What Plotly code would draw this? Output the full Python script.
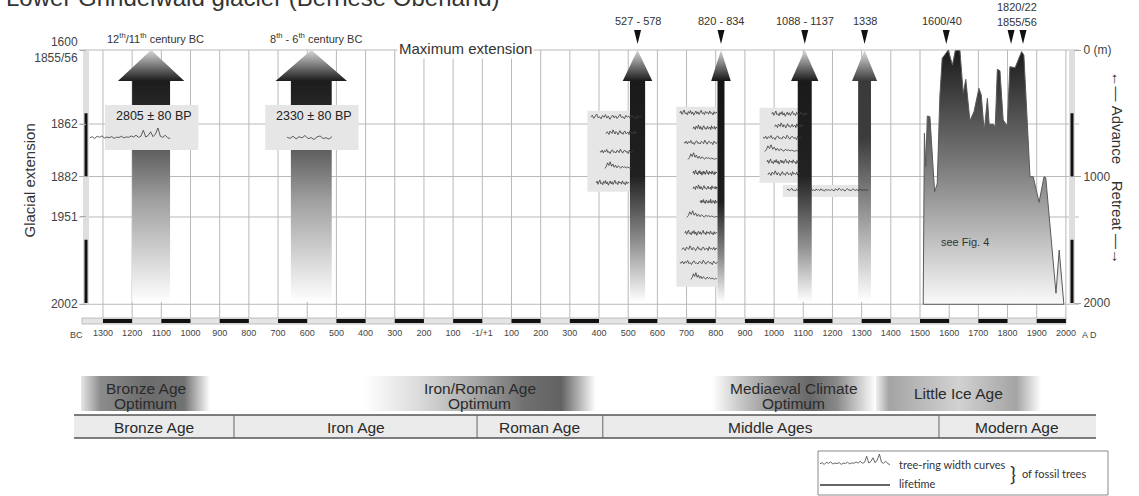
import numpy as np
import plotly.graph_objects as go

W, H = 1139, 496
FONT = "Liberation Sans, Arial, sans-serif"

# ----------------------------------------------------------------- data
CENTURY_VALUES = [-1300, -1200, -1100, -1000, -900, -800, -700, -600, -500, -400, -300,
                  -200, -100, 0, 100, 200, 300, 400, 500, 600, 700, 800, 900, 1000, 1100,
                  1200, 1300, 1400, 1500, 1600, 1700, 1800, 1900, 2000]
CENTURY_LABELS = ["1300", "1200", "1100", "1000", "900", "800", "700", "600", "500", "400",
                  "300", "200", "100", "-1/+1", "100", "200", "300", "400", "500", "600",
                  "700", "800", "900", "1000", "1100", "1200", "1300", "1400", "1500",
                  "1600", "1700", "1800", "1900", "2000"]

EXTENT_TICK_M = [0, 585, 1000, 1320, 2010]
EXTENT_TICK_TEXT = ["1600<br>1855/56", "1862", "1882", "1951", "2002"]
DISTANCE_TICK_M = [0, 1000, 2000]
DISTANCE_TICK_TEXT = ["0 (m)", "1000", "2000"]
DISTANCE_BARS_M = [[500, 1000], [1500, 2000]]

BC_ADVANCE_LABELS = ["12<sup>th</sup>/11<sup>th</sup> century BC", "8<sup>th</sup> - 6<sup>th</sup> century BC"]
BC_ADVANCE_CENTER = [-1135, -586]
BC_ADVANCE_HALF = [65, 70]
BC_DATES = ["2805 ± 80 BP", "2330 ± 80 BP"]

AD_ADVANCE_LABELS = ["527 - 578", "820 - 834", "1088 - 1137", "1338"]
AD_ADVANCE_CENTER = [532, 818, 1105, 1310]
AD_ADVANCE_HALF = [26, 12, 24, 22]

LIA_MARK_YEARS = [1590, 1812, 1853]
LIA_YEARS = [1511, 1515, 1520, 1525, 1534, 1550, 1559, 1568, 1576, 1597, 1611, 1621, 1637,
             1648, 1657, 1671, 1685, 1702, 1710, 1720, 1731, 1737, 1751, 1758, 1765, 1774,
             1785, 1799, 1808, 1826, 1848, 1856, 1877, 1888, 1908, 1925, 1931, 1966, 1977, 1993]
LIA_EXTENT_M = [2010, 659, 922, 522, 527, 1120, 1059, 369, 66, 0, 119, 5, 5,
                342, 232, 559, 488, 303, 356, 646, 382, 587, 587, 606, 153, 164,
                553, 601, 132, 140, 13, 40, 1002, 1002, 1204, 1002, 1009, 1923, 1581, 2010]

# fossil trees: (first year, last year, extension level in m)
TREES_BP1 = [(-1345, -1070, 688)]
TREES_BP2 = [(-669, -515, 696)]
TREES_527 = [(372, 547, 530), (424, 530, 656), (403, 516, 806), (420, 516, 925), (390, 503, 1051)]
TREES_820 = [(677, 805, 498), (722, 804, 617), (691, 806, 735), (705, 805, 854),
             (722, 804, 972), (722, 806, 1091), (746, 805, 1202), (701, 806, 1312),
             (694, 804, 1447), (684, 805, 1573), (677, 806, 1684), (715, 804, 1802)]
TREES_1088 = [(992, 1116, 506), (1002, 1100, 601), (962, 1095, 696), (968, 1082, 791),
              (975, 1088, 885), (979, 1088, 980)]
TREES_LONG = [(1044, 1322, 1107)]

RING_A = [0.50, 0.62, 0.41, 0.55, 0.70, 0.45, 0.52, 0.38, 0.60, 0.48, 0.66, 0.43, 0.57, 0.35,
          0.51, 0.63, 0.44, 0.58, 0.40, 0.54, 0.68, 0.46, 0.53, 0.39, 0.61, 0.49, 0.56, 0.42,
          0.64, 0.47, 0.52, 0.37, 0.59, 0.45, 0.55, 0.50]
RING_B = [0.45, 0.58, 0.52, 0.40, 0.63, 0.55, 0.47, 0.71, 0.50, 0.43, 0.60, 0.53, 0.38, 0.57,
          0.66, 0.48, 0.52, 0.41, 0.59, 0.62, 0.44, 0.51, 0.56, 0.39, 0.65, 0.49, 0.54, 0.46,
          0.61, 0.42, 0.57, 0.50]
RING_C = [0.55, 0.48, 0.62, 0.44, 0.59, 0.51, 0.67, 0.46, 0.53, 0.40, 0.58, 0.64, 0.47, 0.52,
          0.43, 0.60, 0.56, 0.45, 0.69, 0.50, 0.42, 0.57, 0.61, 0.48, 0.54, 0.39, 0.63, 0.51,
          0.46, 0.58]
RING_D = [0.40, 0.52, 0.78, 0.60, 0.85, 0.55, 0.70, 0.48, 0.62, 0.45, 0.58, 0.50, 0.42, 0.55,
          0.47, 0.52, 0.44, 0.50, 0.46, 0.41, 0.48, 0.43]
RING_SPIKY = [0.45, 0.52, 0.40, 0.55, 0.48, 0.58, 0.43, 0.50, 0.46, 0.53, 0.41, 0.49, 0.47,
              0.55, 0.44, 0.51, 0.48, 0.57, 0.50, 0.62, 0.48, 0.55, 0.95, 0.50, 0.60, 0.85,
              0.52, 0.70, 1.10, 0.55, 0.48, 0.62, 0.45, 0.40]
RING_SETS = [RING_A, RING_B, RING_C, RING_D]

ERA_NAMES = ["Bronze Age", "Iron Age", "Roman Age", "Middle Ages", "Modern Age"]
ERA_BOUNDS = [-1399, -851, -18, 413, 1565, 2103]
CLIMATE_NAMES = [["Bronze Age", "Optimum"], ["Iron/Roman Age", "Optimum"],
                 ["Mediaeval Climate", "Optimum"], ["Little Ice Age"]]
CLIMATE_START = [-1375, -405, 787, 1349]
CLIMATE_END = [-933, 389, 1349, 1915]

# ----------------------------------------------------------- calibration
X_ZERO_PX, PX_PER_YEAR = 482.3, 0.2918
Y_ZERO_PX, PX_PER_M = 50.0, 0.1265


def yr(px):
    return (px - X_ZERO_PX) / PX_PER_YEAR


def mm(py):
    return (py - Y_ZERO_PX) / PX_PER_M


X_RANGE = [yr(0), yr(W)]
Y_RANGE = [mm(H), mm(0)]

fig = go.Figure()


def add_line(xs, ys, color, width):
    fig.add_trace(go.Scatter(x=xs, y=ys, mode="lines", line=dict(color=color, width=width),
                             hoverinfo="skip", showlegend=False))


def add_poly(xs, ys, color=None, gradient=None, line_color="rgba(0,0,0,0)", lw=0):
    kw = dict(x=list(xs) + [xs[0]], y=list(ys) + [ys[0]], mode="lines", fill="toself",
              line=dict(color=line_color, width=lw), hoverinfo="skip", showlegend=False)
    if gradient is not None:
        kw["fillgradient"] = gradient
    else:
        kw["fillcolor"] = color
    fig.add_trace(go.Scatter(**kw))


def add_rect(x0, x1, y0, y1, color=None, gradient=None, line_color="rgba(0,0,0,0)", lw=0):
    add_poly([x0, x1, x1, x0], [y0, y0, y1, y1], color, gradient, line_color, lw)


def add_text(x, y, s, size, color="#333", xanchor="center", family=FONT, **kw):
    fig.add_annotation(x=x, y=y, xref="x", yref="y", text=s, showarrow=False,
                       font=dict(size=size, color=color, family=family),
                       xanchor=xanchor, yanchor="middle", **kw)


RING_AMP = mm(50 + 15)  # metres per ring-width unit


def add_tree(first, last, level, values, amp=RING_AMP, color="#3a3a3a", width=0.8):
    v = np.asarray(values, dtype=float)
    xs = np.linspace(first, last, len(v))
    ys = level - amp * (v - 0.5)
    add_line(list(xs), list(ys), color, width)


# ----------------------------------------------------------- grid
gx, gy = [], []
for v in CENTURY_VALUES:
    gx += [v, v, None]
    gy += [mm(50), mm(319), None]
add_line(gx, gy, "#b9b9b9", 1)
hx, hy = [], []
for t in EXTENT_TICK_M:
    hx += [yr(79), yr(1079), None]
    hy += [t, t, None]
add_line(hx, hy, "#b9b9b9", 1)

# side strips with alternating distance bars
add_rect(yr(83), yr(89), 0, EXTENT_TICK_M[-1], "#dedede")
add_rect(yr(1069), yr(1075), 0, EXTENT_TICK_M[-1], "#dedede")
for a, b in DISTANCE_BARS_M:
    add_line([yr(86), yr(86)], [a, b], "#111", 3)
    add_line([yr(1072), yr(1072)], [a, b], "#111", 3)

# bottom century strip
add_rect(yr(82), yr(1066), mm(318), mm(324), "#e4e4e4", line_color="#b0b0b0", lw=0.8)
for i in range(0, len(CENTURY_VALUES) - 1, 2):
    add_rect(CENTURY_VALUES[i], CENTURY_VALUES[i + 1], mm(319), mm(323), "#111")

HEAD_M = mm(81)
ARROW_BOTTOM_M = mm(302)

# ----------------------------------------------------------- BC advances
BC_SCALE = [[0, "#d8d8d8"], [HEAD_M / ARROW_BOTTOM_M, "#1c1c1c"], [0.22, "#262626"],
            [0.6, "#a0a0a0"], [1, "#ffffff"]]
for c, half in zip(BC_ADVANCE_CENTER, BC_ADVANCE_HALF):
    hh = half * 1.75
    add_poly([c, c + hh, c + half, c + half, c - half, c - half, c - hh],
             [0, HEAD_M, HEAD_M, ARROW_BOTTOM_M, ARROW_BOTTOM_M, HEAD_M, HEAD_M],
             gradient=dict(type="vertical", colorscale=BC_SCALE, start=0, stop=ARROW_BOTTOM_M))

for c, date, trees in zip(BC_ADVANCE_CENTER, BC_DATES, [TREES_BP1, TREES_BP2]):
    add_rect(c - 158, c + 162, mm(105), mm(150), "#e6e6e6")
    add_text(c + 10, mm(116), date, 12.5, "#222")
add_tree(*TREES_BP1[0], RING_SPIKY)
add_tree(*TREES_BP2[0], RING_C[:16])

# ----------------------------------------------------------- AD tree boxes
for trees in [TREES_527, TREES_820, TREES_1088]:
    x0 = min(t[0] for t in trees) - 12
    x1 = max(t[1] for t in trees)
    y0 = min(t[2] for t in trees) - 50
    y1 = max(t[2] for t in trees) + 70
    add_rect(x0, x1, y0, y1, "#e6e6e6")
lt = TREES_LONG[0]
add_rect(lt[0] - 14, lt[1] + 6, lt[2] - 40, lt[2] + 55, "#e6e6e6")

# ----------------------------------------------------------- AD advances
AD_SCALES = [
    [[0, "#d8d8d8"], [0.123, "#1a1a1a"], [0.5, "#202020"], [0.75, "#8a8a8a"], [1, "#ffffff"]],
    [[0, "#d8d8d8"], [0.123, "#141414"], [0.6, "#1e1e1e"], [0.82, "#8a8a8a"], [1, "#ffffff"]],
    [[0, "#d8d8d8"], [0.123, "#1a1a1a"], [0.5, "#222222"], [0.78, "#909090"], [1, "#ffffff"]],
    [[0, "#e0e0e0"], [0.123, "#3a3a3a"], [0.35, "#3c3c3c"], [1, "#ffffff"]],
]
for c, half, sc in zip(AD_ADVANCE_CENTER, AD_ADVANCE_HALF, AD_SCALES):
    hh = half * 1.95 if half > 15 else half * 2.8
    add_poly([c, c + hh, c + half, c + half, c - half, c - half, c - hh],
             [0, HEAD_M, HEAD_M, ARROW_BOTTOM_M, ARROW_BOTTOM_M, HEAD_M, HEAD_M],
             gradient=dict(type="vertical", colorscale=sc, start=0, stop=ARROW_BOTTOM_M))

for group in [TREES_527, TREES_820, TREES_1088]:
    for k, (a, b, lev) in enumerate(group):
        add_tree(a, b, lev, RING_SETS[k % 4])
add_tree(lt[0], lt[1], lt[2], RING_A + RING_B, amp=RING_AMP * 0.6)

# ----------------------------------------------------------- Little Ice Age curve
add_poly(LIA_YEARS, LIA_EXTENT_M,
         gradient=dict(type="vertical",
                       colorscale=[[0, "#1a1a1a"], [0.45, "#7a7a7a"], [1, "#fafafa"]],
                       start=0, stop=2010),
         line_color="#5a5a5a", lw=1)
add_text(1655, mm(242), "see Fig. 4", 11, "#333")

# ----------------------------------------------------------- markers and labels
for x in AD_ADVANCE_CENTER + LIA_MARK_YEARS:
    add_poly([x - 12, x + 12, x], [mm(30), mm(30), mm(44)], "#111")
for x, lab in zip(AD_ADVANCE_CENTER, AD_ADVANCE_LABELS):
    add_text(x, mm(21), lab, 11, "#333")
add_text(LIA_MARK_YEARS[0] - 15, mm(21), "1600/40", 11, "#333")
add_text((LIA_MARK_YEARS[1] + LIA_MARK_YEARS[2]) / 2, mm(7), "1820/22", 11, "#333")
add_text((LIA_MARK_YEARS[1] + LIA_MARK_YEARS[2]) / 2, mm(22), "1855/56", 11, "#333")
for x, lab in zip(BC_ADVANCE_CENTER, BC_ADVANCE_LABELS):
    add_text(x + 15, mm(38), lab, 11, "#333")

add_text(yr(465), mm(48), "Maximum extension", 15, "#333", bgcolor="white")
fig.add_annotation(x=18 / W, y=1 - 181 / H, xref="paper", yref="paper",
                   text="Glacial extension", textangle=-90, showarrow=False,
                   font=dict(size=15, color="#333", family=FONT))
fig.add_annotation(x=1127 / W, y=1 - 168 / H, xref="paper", yref="paper",
                   text="\u2190\u2014\u00a0Advance\u00a0\u00a0\u00a0\u00a0Retreat\u00a0\u2014\u2192",
                   textangle=90, showarrow=False,
                   font=dict(size=15, color="#333", family=FONT))
fig.add_annotation(x=4 / W, y=1 + 2 / H, xref="paper", yref="paper", xanchor="left",
                   yanchor="middle", text="Lower Grindelwald glacier (Bernese Oberland)",
                   showarrow=False, font=dict(size=24, color="#333", family=FONT))
add_text(yr(76), mm(335), "BC", 9, "#444")
add_text(yr(1089), mm(335), "A D", 9, "#444")

# ----------------------------------------------------------- period bands
CLIMATE_SCALES = [
    [[0, "#e6e6e6"], [0.15, "#8c8c8c"], [0.5, "#6c6c6c"], [0.8, "#727272"], [1, "#ffffff"]],
    [[0, "#ffffff"], [0.23, "#dcdcdc"], [0.46, "#ababab"], [0.69, "#707070"], [0.85, "#626262"], [1, "#ffffff"]],
    [[0, "#ffffff"], [0.17, "#c8c8c8"], [0.41, "#888888"], [0.6, "#686868"], [0.76, "#888888"], [1, "#ffffff"]],
    [[0, "#f0f0f0"], [0.08, "#a4a4a4"], [0.5, "#d2d2d2"], [0.85, "#a4a4a4"], [1, "#ffffff"]],
]
for a, b, sc, names in zip(CLIMATE_START, CLIMATE_END, CLIMATE_SCALES, CLIMATE_NAMES):
    add_rect(a, b, mm(376), mm(411),
             gradient=dict(type="horizontal", colorscale=sc, start=a, stop=b))
    cx = (a + b) / 2
    if len(names) == 2:
        add_text(cx, mm(388), names[0], 15.5, "#2a2a2a")
        add_text(cx, mm(403), names[1], 15.5, "#2a2a2a")
    else:
        add_text(cx, mm(393), names[0], 15.5, "#2a2a2a")

add_rect(ERA_BOUNDS[0], ERA_BOUNDS[-1], mm(415), mm(438), "#ebebeb")
add_line([ERA_BOUNDS[0], ERA_BOUNDS[-1]], [mm(415), mm(415)], "#555", 1.5)
add_line([ERA_BOUNDS[0], ERA_BOUNDS[-1]], [mm(438), mm(438)], "#555", 1.5)
for bnd in ERA_BOUNDS[1:-1]:
    add_line([bnd, bnd], [mm(415), mm(438)], "#666", 1)
for i, name in enumerate(ERA_NAMES):
    add_text((ERA_BOUNDS[i] + ERA_BOUNDS[i + 1]) / 2, mm(427), name, 15.5, "#2a2a2a")

# ----------------------------------------------------------- legend box
add_rect(yr(818), yr(1108), mm(451), mm(495), "#ffffff", line_color="#8a8a8a", lw=1)
add_tree(yr(820), yr(890), mm(463), RING_SPIKY, color="#444", width=0.8)
add_line([yr(820), yr(890)], [mm(485), mm(485)], "#333", 1.4)
add_text(yr(897), mm(464), "tree-ring width curves", 11, "#333", xanchor="left", family="Lato")
add_text(yr(897), mm(483), "lifetime", 11, "#333", xanchor="left", family="Lato")
add_text(yr(1013), mm(473), "}", 20, "#333", family="Lato")
add_text(yr(1020), mm(473), "of fossil trees", 11, "#333", xanchor="left", family="Lato")

# ----------------------------------------------------------- axes carriers
fig.add_trace(go.Scatter(x=[None], y=[None], xaxis="x2", yaxis="y", showlegend=False))
fig.add_trace(go.Scatter(x=[None], y=[None], xaxis="x", yaxis="y2", showlegend=False))
fig.add_trace(go.Scatter(x=[None], y=[None], xaxis="x", yaxis="y3", showlegend=False))

fig.update_layout(
    width=W, height=H, margin=dict(l=0, r=0, t=0, b=0),
    paper_bgcolor="white", plot_bgcolor="white", showlegend=False,
    font=dict(family=FONT, color="#333"),
    xaxis=dict(range=X_RANGE, domain=[0, 1], visible=False, fixedrange=True),
    yaxis=dict(range=Y_RANGE, domain=[0, 1], visible=False, fixedrange=True),
    xaxis2=dict(overlaying="x", range=X_RANGE, anchor="free", position=(H - 326) / H,
                side="bottom", tickmode="array", tickvals=CENTURY_VALUES,
                ticktext=CENTURY_LABELS, showgrid=False, zeroline=False, showline=False,
                ticks="", tickangle=0, tickfont=dict(size=9, color="#444", family=FONT),
                fixedrange=True),
    yaxis2=dict(overlaying="y", range=Y_RANGE, anchor="free", position=86 / W, side="left",
                tickmode="array", tickvals=EXTENT_TICK_M, ticktext=EXTENT_TICK_TEXT,
                ticks="outside", ticklen=6, tickcolor="#aaaaaa", showgrid=False,
                zeroline=False, showline=False,
                tickfont=dict(size=12, color="#444", family=FONT), fixedrange=True),
    yaxis3=dict(overlaying="y", range=Y_RANGE, anchor="free", position=1073 / W, side="right",
                tickmode="array", tickvals=DISTANCE_TICK_M, ticktext=DISTANCE_TICK_TEXT,
                ticks="outside", ticklen=7, tickcolor="#aaaaaa", showgrid=False,
                zeroline=False, showline=False,
                tickfont=dict(size=12, color="#444", family=FONT), fixedrange=True),
)

fig.write_html("out.html")
